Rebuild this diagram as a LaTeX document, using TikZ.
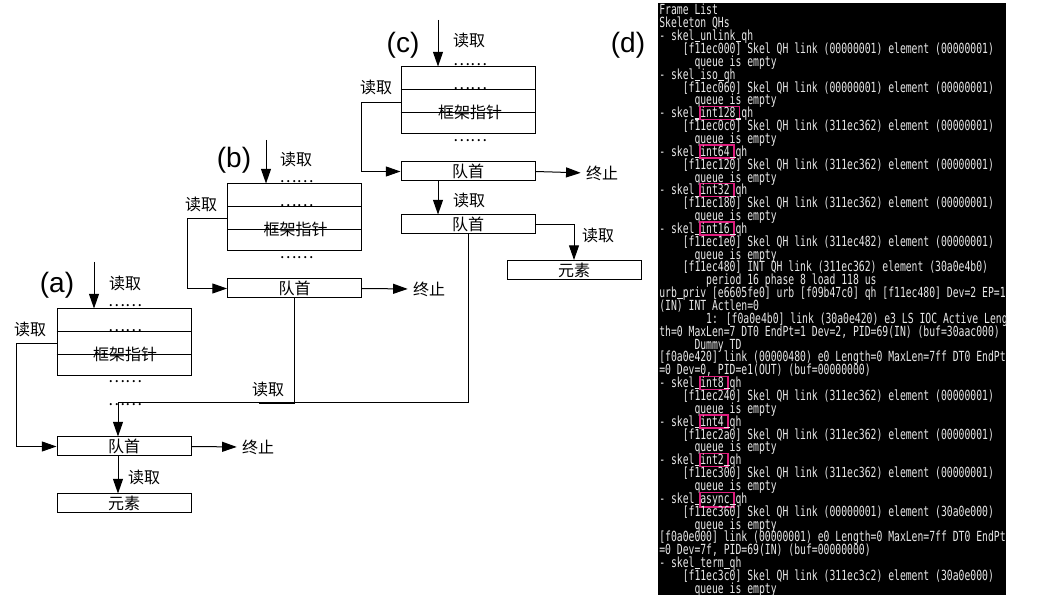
\documentclass[tikz,border=0pt]{standalone}
\usepackage{fontspec}
\usepackage{tikz}
\usetikzlibrary{calc,arrows.meta}
\newfontfamily\cjk{Noto Sans CJK SC}
\newfontfamily\labfont{Liberation Sans}
\newfontfamily\termfont[FakeStretch=0.7]{DejaVu Sans Mono}
\definecolor{qhpink}{RGB}{222,30,125}
\definecolor{termgray}{RGB}{232,232,232}
\newlength\cw
\newcommand\ind[1]{\hspace*{#1\cw}}
\newcommand\us{\rule[-1.3pt]{\cw}{0.8pt}}
\newcommand\qhmark[1]{\makebox[0pt][l]{\kern-0.75pt\textcolor{qhpink}{\fboxrule=1.1pt\fboxsep=0pt\fbox{\rule[-0.7pt]{0pt}{8.3pt}\phantom{#1}\kern2.2pt}}}#1}

\tikzset{
  cn/.style={font=\cjk\fontsize{12}{12}\selectfont, inner sep=0pt},
  tag/.style={font=\labfont\fontsize{21}{21}\selectfont, inner sep=0pt},
  fptable/.style={draw, line width=0.75pt, minimum width=100.5pt, minimum height=50.25pt, inner sep=0pt},
  qbox/.style={draw, line width=0.75pt, minimum width=100.5pt, minimum height=14.25pt, inner sep=0pt, font=\cjk\fontsize{12}{12}\selectfont},
  link/.style={line width=0.75pt},
  arr/.style={line width=0.75pt, -{Triangle[length=11pt,width=7.5pt]}},
  termline/.style={anchor=base west, inner sep=0pt, text=termgray, font=\termfont\fontsize{10.45}{9.65}\selectfont\settowidth\cw{x}},
}

\begin{document}
\begin{tikzpicture}[x=0.75pt,y=0.75pt,yscale=-1,xscale=1]
\useasboundingbox (0,0) rectangle (1058,595);

%(a) frame list
\node[tag] (taga) at (57,285) {(a)};
\node[fptable] (fpa) at (124,342.5) {};
\draw[link] ($(fpa.north west)+(0,23)$) -- ($(fpa.north east)+(0,23)$);
\draw[link] ($(fpa.north west)+(0,46)$) -- ($(fpa.north east)+(0,46)$);
\node[cn] (dota1) at ($(fpa.north)+(1,-3)$) {……};
\node[cn] (dota2) at ($(fpa.north)+(1,22)$) {……};
\node[cn] (fpta) at ($(fpa.north)+(1,46)$) {框架指针};
\node[cn] (dota3) at ($(fpa.south)+(1,5)$) {……};
\coordinate (ina) at (94,262);
\draw[arr] (ina) -- (ina |- fpa.north);
\node[cn] (rda1) at (125,283) {读取};
\node[cn] (rda2) at (30,329) {读取};
\node[qbox] (qa) at (124,446.5) {队首};
\node[qbox] (ea) at (124,503.5) {元素};
\node[cn] (enda) at (258,447) {终止};
\draw[arr] ($(fpa.north west)+(0,35)$) -- ++(-40,0) |- (qa.west);
\draw[arr, shorten >=3.75pt] (qa.east) -- (enda.west);
\draw[arr] ($(qa.south)+(-6,0)$) -- ($(qa.south |- ea.north)+(-6,0)$);
\node[cn] (rda3) at (144,477) {读取};

%(b)
\node[tag] (tagb) at (234,160) {(b)};
\node[fptable] (fpb) at (294.5,217.5) {};
\draw[link] ($(fpb.north west)+(0,23)$) -- ($(fpb.north east)+(0,23)$);
\draw[link] ($(fpb.north west)+(0,46)$) -- ($(fpb.north east)+(0,46)$);
\node[cn] (dotb1) at ($(fpb.north)+(2,-2)$) {……};
\node[cn] (dotb2) at ($(fpb.north)+(2,22)$) {……};
\node[cn] (fptb) at ($(fpb.north)+(1,46)$) {框架指针};
\node[cn] (dotb3) at ($(fpb.south)+(2,6)$) {……};
\coordinate (inb) at (266,140);
\draw[arr] (inb) -- (inb |- fpb.north);
\node[cn] (rdb1) at (296,159) {读取};
\node[cn] (rdb2) at (201,204) {读取};
\node[qbox] (qb) at (294.5,288.5) {队首};
\node[cn] (endb) at (429,289) {终止};
\draw[arr] ($(fpb.north west)+(0,35)$) -- ++(-40,0) |- (qb.west);
\draw[arr, shorten >=3.75pt] (qb.east) -- (endb.west);

%(c)
\node[tag] (tagc) at (403,45) {(c)};
\node[fptable] (fpc) at (468,100.5) {};
\draw[link] ($(fpc.north west)+(0,23)$) -- ($(fpc.north east)+(0,23)$);
\draw[link] ($(fpc.north west)+(0,46)$) -- ($(fpc.north east)+(0,46)$);
\node[cn] (dotc1) at ($(fpc.north)+(2,-2)$) {……};
\node[cn] (dotc2) at ($(fpc.north)+(2,22)$) {……};
\node[cn] (fptc) at ($(fpc.north)+(2,46)$) {框架指针};
\node[cn] (dotc3) at ($(fpc.south)+(2,6)$) {……};
\coordinate (inc) at (438,20);
\draw[arr] (inc) -- (inc |- fpc.north);
\node[cn] (rdc1) at (469,40) {读取};
\node[cn] (rdc2) at (376,87) {读取};
\node[qbox] (qc1) at (468,171.5) {队首};
\node[qbox] (qc2) at (468,224.5) {队首};
\node[qbox] (ec) at (574,270) {元素};
\node[cn] (endc) at (602,173) {终止};
\draw[arr] ($(fpc.north west)+(0,36)$) -- ++(-39,0) |- (qc1.west);
\draw[arr, shorten >=3.75pt] (qc1.east) -- (endc.west);
\draw[arr] ($(qc1.south)+(-30,0)$) -- ($(qc1.south |- qc2.north)+(-30,0)$);
\node[cn] (rdc3) at (469,200) {读取};
\draw[arr] (qc2.east) -| (ec.north);
\node[cn] (rdc4) at (598,235) {读取};

%back to (a)
\coordinate (joina) at (118,403);
\draw[link] (qc2.south) |- (joina);
\draw[link] (qb.south) -- (qb.south |- joina);
\draw[line width=1.6pt] ($(qb.south |- joina)+(-36,0)$) -- (qb.south |- joina);
\node[cn] (rdj) at (268,389) {读取};
\node[cn] (dotj) at (125,405) {……};
\draw[arr] (joina) -- (joina |- qa.north);

%(d) dump
\node[tag] (tagd) at (628,45) {(d)};
\node[fill=black, inner sep=0pt, anchor=north west, minimum width=261pt, minimum height=444pt] (dump) at (658,3) {};
\foreach \txt [count=\i] in {
  {Frame List},
  {Skeleton QHs},
  {- skel\us unlink\us qh},
  {\ind{4}[f11ec000] Skel QH link (00000001) element (00000001)},
  {\ind{6}queue is empty},
  {- skel\us iso\us qh},
  {\ind{4}[f11ec060] Skel QH link (00000001) element (00000001)},
  {\ind{6}queue is empty},
  {- skel\us\qhmark{int128}\us qh},
  {\ind{4}[f11ec0c0] Skel QH link (311ec362) element (00000001)},
  {\ind{6}queue is empty},
  {- skel\us\qhmark{int64}\us qh},
  {\ind{4}[f11ec120] Skel QH link (311ec362) element (00000001)},
  {\ind{6}queue is empty},
  {- skel\us\qhmark{int32}\us qh},
  {\ind{4}[f11ec180] Skel QH link (311ec362) element (00000001)},
  {\ind{6}queue is empty},
  {- skel\us\qhmark{int16}\us qh},
  {\ind{4}[f11ec1e0] Skel QH link (311ec482) element (00000001)},
  {\ind{6}queue is empty},
  {\ind{4}[f11ec480] INT QH link (311ec362) element (30a0e4b0)},
  {\ind{8}period 16 phase 8 load 118 us},
  {urb\us priv [e6605fe0] urb [f09b47c0] qh [f11ec480] Dev=2 EP=1},
  {(IN) INT Actlen=0},
  {\ind{8}1: [f0a0e4b0] link (30a0e420) e3 LS IOC Active Leng},
  {th=0 MaxLen=7 DT0 EndPt=1 Dev=2, PID=69(IN) (buf=30aac000)},
  {\ind{6}Dummy TD},
  {[f0a0e420] link (00000480) e0 Length=0 MaxLen=7ff DT0 EndPt},
  {=0 Dev=0, PID=e1(OUT) (buf=00000000)},
  {- skel\us\qhmark{int8}\us qh},
  {\ind{4}[f11ec240] Skel QH link (311ec362) element (00000001)},
  {\ind{6}queue is empty},
  {- skel\us\qhmark{int4}\us qh},
  {\ind{4}[f11ec2a0] Skel QH link (311ec362) element (00000001)},
  {\ind{6}queue is empty},
  {- skel\us\qhmark{int2}\us qh},
  {\ind{4}[f11ec300] Skel QH link (311ec362) element (00000001)},
  {\ind{6}queue is empty},
  {- skel\us\qhmark{async}\us qh},
  {\ind{4}[f11ec360] Skel QH link (00000001) element (30a0e000)},
  {\ind{6}queue is empty},
  {[f0a0e000] link (00000001) e0 Length=0 MaxLen=7ff DT0 EndPt},
  {=0 Dev=7f, PID=69(IN) (buf=00000000)},
  {- skel\us term\us qh},
  {\ind{4}[f11ec3c0] Skel QH link (311ec3c2) element (30a0e000)},
  {\ind{6}queue is empty}}
  \node[termline] (ln\i) at (659,{15+12.85*(\i-1)}) {\txt};
\end{tikzpicture}
\end{document}
